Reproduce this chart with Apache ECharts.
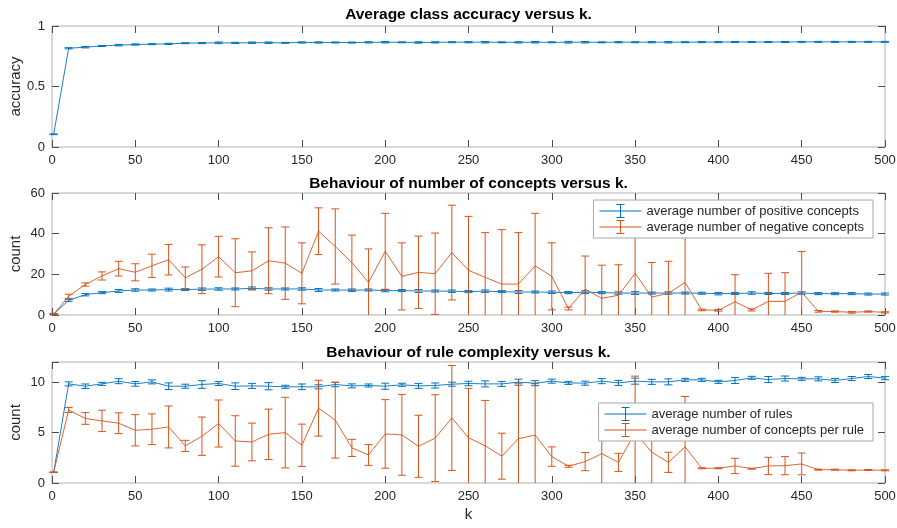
<!DOCTYPE html>
<html>
<head>
<meta charset="utf-8">
<script src="https://cdn.jsdelivr.net/npm/echarts@6/dist/echarts.min.js"></script>
<style>
  html, body { margin: 0; padding: 0; background: #ffffff; }
  #chart { width: 897px; height: 528px; }
</style>
</head>
<body>
<div id="chart"></div>
<script>
// k values at which each quantity was averaged
const K = [1, 10, 20, 30, 40, 50, 60, 70, 80, 90, 100, 110, 120, 130, 140, 150, 160, 170, 180, 190,
  200, 210, 220, 230, 240, 250, 260, 270, 280, 290, 300, 310, 320, 330, 340, 350, 360, 370, 380, 390,
  400, 410, 420, 430, 440, 450, 460, 470, 480, 490, 500];

// Average class accuracy and its spread
const accuracyMean = [0.105, 0.816, 0.825, 0.835, 0.842, 0.847, 0.850, 0.852, 0.858, 0.859,
  0.861, 0.860, 0.862, 0.862, 0.861, 0.864, 0.864, 0.864, 0.863, 0.865,
  0.866, 0.865, 0.864, 0.865, 0.866, 0.866, 0.866, 0.865, 0.865, 0.866,
  0.865, 0.866, 0.866, 0.865, 0.866, 0.866, 0.866, 0.866, 0.866, 0.867,
  0.867, 0.868, 0.868, 0.868, 0.868, 0.869, 0.869, 0.869, 0.869, 0.869, 0.869];
const accuracyErr = [0.003, 0.005, 0.006, 0.004, 0.006, 0.005, 0.004, 0.005, 0.004, 0.005,
  0.007, 0.005, 0.006, 0.006, 0.004, 0.005, 0.005, 0.004, 0.004, 0.005,
  0.006, 0.004, 0.006, 0.005, 0.004, 0.005, 0.006, 0.004, 0.005, 0.006,
  0.004, 0.007, 0.006, 0.004, 0.005, 0.004, 0.005, 0.006, 0.004, 0.005,
  0.005, 0.004, 0.004, 0.004, 0.004, 0.004, 0.004, 0.004, 0.004, 0.004, 0.004];

// Number of positive / negative concepts
const positiveMean = [0.5, 7.2, 10.0, 11.0, 11.8, 12.3, 12.3, 12.5, 12.5, 12.7,
  12.8, 12.8, 13.1, 12.8, 12.8, 12.8, 12.3, 12.3, 12.2, 12.3,
  12.0, 12.0, 11.8, 11.8, 11.7, 11.5, 11.7, 11.5, 11.3, 11.3,
  11.2, 11.0, 11.2, 11.0, 10.8, 10.8, 10.8, 10.8, 10.8, 10.7,
  10.5, 10.6, 10.8, 10.6, 10.6, 10.8, 10.5, 10.5, 10.5, 10.3, 10.3];
const positiveErr = [0.3, 0.5, 0.6, 0.5, 0.7, 0.6, 0.5, 0.7, 0.5, 0.6,
  0.6, 0.5, 0.7, 0.6, 0.5, 0.6, 0.7, 0.5, 0.6, 0.5,
  0.6, 0.5, 0.7, 0.5, 0.6, 0.5, 0.6, 0.5, 0.7, 0.5,
  0.6, 0.5, 0.7, 0.5, 0.6, 0.7, 0.5, 0.6, 0.5, 0.5,
  0.6, 0.5, 0.6, 0.5, 0.5, 0.6, 0.5, 0.5, 0.5, 0.5, 0.5];
const negativeMean = [0.3, 9.2, 15.0, 19.2, 22.8, 21.0, 24.2, 27.2, 18.3, 22.5,
  28.7, 20.8, 21.7, 26.7, 25.5, 20.5, 41.2, 33.7, 25.8, 16.0,
  31.3, 19.0, 21.0, 20.3, 30.7, 22.0, 18.5, 15.2, 15.2, 24.2,
  19.0, 3.2, 12.7, 8.2, 9.7, 20.5, 8.8, 10.7, 16.0, 2.5,
  2.3, 6.5, 2.5, 6.7, 6.7, 11.2, 1.8, 1.7, 1.3, 1.7, 1.3];
const negativeErr = [0.3, 1.0, 0.8, 2.0, 3.6, 4.2, 5.7, 7.5, 5.3, 12.0,
  10.0, 16.7, 9.3, 16.2, 17.8, 15.0, 11.5, 18.5, 13.5, 16.5,
  18.7, 16.5, 17.8, 20.0, 23.3, 26.5, 22.0, 26.8, 25.3, 25.8,
  16.5, 0.7, 16.3, 16.3, 15.0, 21.0, 17.0, 15.7, 25.0, 0.4,
  0.4, 13.3, 0.5, 13.8, 14.1, 20.0, 0.4, 0.3, 0.4, 0.3, 0.3];

// Rule complexity: number of rules and concepts per rule
const rulesMean = [1.06, 9.83, 9.60, 9.83, 10.10, 9.83, 10.03, 9.60, 9.60, 9.77,
  9.87, 9.60, 9.63, 9.60, 9.54, 9.54, 9.54, 9.77, 9.63, 9.67,
  9.60, 9.74, 9.63, 9.67, 9.80, 9.87, 9.83, 9.83, 10.00, 9.90,
  10.10, 9.93, 9.90, 10.10, 9.93, 10.10, 10.03, 10.03, 10.23, 10.23,
  10.03, 10.17, 10.43, 10.26, 10.36, 10.33, 10.33, 10.17, 10.36, 10.56, 10.40];
const rulesErr = [0.02, 0.20, 0.22, 0.15, 0.25, 0.23, 0.20, 0.33, 0.20, 0.38,
  0.20, 0.33, 0.25, 0.36, 0.15, 0.28, 0.20, 0.22, 0.20, 0.15,
  0.30, 0.15, 0.25, 0.25, 0.20, 0.22, 0.30, 0.25, 0.30, 0.25,
  0.20, 0.15, 0.20, 0.25, 0.25, 0.30, 0.25, 0.30, 0.15, 0.15,
  0.15, 0.30, 0.15, 0.30, 0.25, 0.15, 0.20, 0.20, 0.20, 0.20, 0.15];
const perRuleMean = [1.06, 7.25, 6.40, 6.16, 5.93, 5.23, 5.33, 5.56, 3.68, 4.64,
  5.90, 4.17, 4.07, 4.83, 5.00, 3.74, 7.42, 6.23, 3.48, 2.78,
  4.87, 4.77, 3.64, 4.45, 6.45, 4.49, 3.69, 2.66, 4.39, 4.75,
  2.62, 1.66, 2.12, 2.91, 2.05, 5.00, 3.05, 2.05, 3.58, 1.46,
  1.46, 1.69, 1.42, 1.69, 1.72, 1.89, 1.32, 1.32, 1.26, 1.29, 1.26];
const perRuleErr = [0.02, 0.25, 0.58, 1.06, 1.03, 1.55, 1.52, 2.08, 0.55, 1.90,
  2.33, 2.50, 1.87, 2.50, 3.50, 2.10, 2.77, 3.76, 0.85, 1.03,
  3.40, 4.00, 3.08, 4.30, 5.20, 4.90, 4.50, 2.28, 5.50, 5.10,
  0.96, 0.10, 0.90, 4.10, 0.90, 5.60, 3.20, 1.00, 5.00, 0.05,
  0.05, 0.76, 0.05, 0.86, 0.90, 1.08, 0.05, 0.05, 0.05, 0.05, 0.05];

const titles = ['Average class accuracy versus k.',
  'Behaviour of number of concepts versus k.',
  'Behaviour of rule complexity versus k.'];
const legendConcepts = ['average number of positive concepts', 'average number of negative concepts'];
const legendRules = ['average number of rules', 'average number of concepts per rule'];

const BLUE = '#0072BD';
const ORANGE = '#D95319';
const FONT = '"Liberation Sans", Arial, Helvetica, sans-serif';
const TEXT = '#262626';
const FRAME = '#b0b0b0';
const TICK = '#4d4d4d';

// errorbar-style legend glyph: horizontal line, vertical bar, two caps
const ERR_ICON = 'path://M0,6.5H42V7.5H0Z M20.5,0H21.5V14H20.5Z M17,0H25V1H17Z M17,13H25V14H17Z';

const grids = [
  { left: 52, right: 12, top: 26, height: 121 },
  { left: 52, right: 12, top: 193, height: 122 },
  { left: 52, right: 12, top: 362, height: 121 }
];
const yRanges = [
  { min: 0, max: 1, interval: 0.5, name: 'accuracy' },
  { min: 0, max: 60, interval: 20, name: 'count' },
  { min: 0, max: 12, interval: 5, name: 'count' }
];

const xAxes = [], yAxes = [];
grids.forEach((g, i) => {
  const line = { show: false, onZero: false };
  const tick = { show: true, inside: true, length: 7, lineStyle: { color: TICK, width: 1 } };
  const label = { fontSize: 13, color: TEXT, fontFamily: FONT };
  xAxes.push({
    gridIndex: i, type: 'value', min: 0, max: 500, interval: 50, position: 'bottom',
    axisLine: line, axisTick: tick, splitLine: { show: false },
    axisLabel: Object.assign({ margin: 7 }, label),
    name: i === 2 ? 'k' : '', nameLocation: 'middle', nameGap: 24, nameMoveOverlap: false,
    nameTextStyle: { fontSize: 15, color: TEXT, fontFamily: FONT }
  });
  xAxes.push({
    gridIndex: i, type: 'value', min: 0, max: 500, interval: 50, position: 'top',
    axisLine: line, axisTick: tick, splitLine: { show: false },
    axisLabel: { show: false }
  });
  const r = yRanges[i];
  yAxes.push({
    gridIndex: i, type: 'value', min: r.min, max: r.max, interval: r.interval, position: 'left',
    axisLine: line, axisTick: tick, splitLine: { show: false },
    axisLabel: Object.assign({
      margin: 7,
      formatter: v => (Math.abs(v / r.interval - Math.round(v / r.interval)) < 1e-9 ? String(v) : '')
    }, label),
    name: r.name, nameLocation: 'middle', nameGap: 29, nameMoveOverlap: false,
    nameTextStyle: { fontSize: 15, color: TEXT, fontFamily: FONT }
  });
  yAxes.push({
    gridIndex: i, type: 'value', min: r.min, max: r.max, interval: r.interval, position: 'right',
    axisLine: line, axisTick: tick, splitLine: { show: false },
    axisLabel: { show: false }
  });
});

function lineSeries(name, g, mean, color) {
  return {
    type: 'line', name: name, xAxisIndex: 2 * g, yAxisIndex: 2 * g,
    data: K.map((k, i) => [k, mean[i]]),
    symbol: 'none', color: color,
    lineStyle: { color: color, width: 0.9 },
    animation: false, silent: true, z: 3
  };
}

function errorSeries(name, g, mean, err, color) {
  return {
    type: 'custom', name: name, xAxisIndex: 2 * g, yAxisIndex: 2 * g,
    data: K.map((k, i) => [k, mean[i] - err[i], mean[i] + err[i]]),
    encode: { x: 0, y: [1, 2] },
    animation: false, silent: true, z: 3,
    renderItem: function (params, api) {
      const cs = params.coordSys;
      const yMin = cs.y, yMax = cs.y + cs.height;
      const hi = api.coord([api.value(0), api.value(2)]);
      const lo = api.coord([api.value(0), api.value(1)]);
      const x = hi[0], hw = 4;
      const style = { stroke: color, lineWidth: 1, fill: null };
      const yTop = Math.max(hi[1], yMin), yBot = Math.min(lo[1], yMax);
      const children = [{ type: 'line', shape: { x1: x, y1: yTop, x2: x, y2: yBot }, style: style }];
      if (hi[1] >= yMin - 0.5) children.push({ type: 'line', shape: { x1: x - hw, y1: hi[1], x2: x + hw, y2: hi[1] }, style: style });
      if (lo[1] <= yMax + 0.5) children.push({ type: 'line', shape: { x1: x - hw, y1: lo[1], x2: x + hw, y2: lo[1] }, style: style });
      return { type: 'group', children: children };
    }
  };
}

const series = [
  lineSeries('average class accuracy', 0, accuracyMean, BLUE),
  errorSeries('accuracy spread', 0, accuracyMean, accuracyErr, BLUE),
  lineSeries(legendConcepts[0], 1, positiveMean, BLUE),
  errorSeries('positive spread', 1, positiveMean, positiveErr, BLUE),
  lineSeries(legendConcepts[1], 1, negativeMean, ORANGE),
  errorSeries('negative spread', 1, negativeMean, negativeErr, ORANGE),
  lineSeries(legendRules[0], 2, rulesMean, BLUE),
  errorSeries('rules spread', 2, rulesMean, rulesErr, BLUE),
  lineSeries(legendRules[1], 2, perRuleMean, ORANGE),
  errorSeries('per rule spread', 2, perRuleMean, perRuleErr, ORANGE)
];

function legendBox(names, top) {
  return {
    data: names.map(n => ({ name: n, icon: ERR_ICON })),
    orient: 'vertical', right: 24, top: top,
    itemWidth: 42, itemHeight: 14, itemGap: 2,
    padding: [4, 9, 4, 6],
    backgroundColor: '#ffffff', borderColor: '#a6a6a6', borderWidth: 1, borderRadius: 0,
    itemStyle: { borderWidth: 0 },
    textStyle: { fontSize: 13, color: TEXT, fontFamily: FONT },
    selectedMode: false, z: 10
  };
}

const titleTops = [7, 176, 345];
const option = {
  backgroundColor: '#ffffff',
  animation: false,
  textStyle: { fontFamily: FONT },
  title: titles.map((t, i) => ({
    text: t, left: 468.5, top: titleTops[i], textAlign: 'center', padding: 0,
    textStyle: { fontSize: 15.5, fontWeight: 'bold', color: '#000000', fontFamily: FONT }
  })),
  grid: grids.map(g => Object.assign({
    show: true, borderColor: FRAME, borderWidth: 1, backgroundColor: 'transparent',
    containLabel: false, outerBoundsMode: 'none'
  }, g)),
  xAxis: xAxes,
  yAxis: yAxes,
  legend: [legendBox(legendConcepts, 200), legendBox(legendRules, 403)],
  series: series
};

const chart = echarts.init(document.getElementById('chart'), null, { renderer: 'canvas' });
chart.setOption(option);
</script>
</body>
</html>
